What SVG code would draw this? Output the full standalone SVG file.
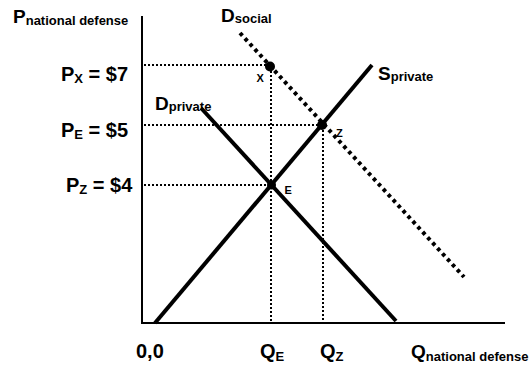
<svg xmlns="http://www.w3.org/2000/svg" width="532" height="366" viewBox="0 0 532 366">
<style>
text{font-family:"Liberation Sans",Arial,sans-serif;font-weight:bold;fill:#000}
.big{font-size:20px}
.sub{font-size:13px}
.lab{font-size:19px}
.lsub{font-size:13px}
.tiny{font-size:11px}
.axis{stroke:#000;stroke-width:2;fill:none}
.curve{stroke:#000;stroke-width:4;fill:none}
.guide{stroke:#000;stroke-width:2;stroke-dasharray:2 2;fill:none}
.social{stroke:#000;stroke-width:4;stroke-dasharray:3.6 3.7;fill:none}
</style>
<rect width="532" height="366" fill="#fff"/>
<g id="connectors">
<path class="guide" d="M144 65H270M144 125H322M144 185H271M271 67V322M323 126V322"/>
<path class="axis" d="M142 16V323H505"/>
<path class="curve" d="M155 323L372 65"/>
<path class="curve" d="M201 108L396 321"/>
<path class="social" d="M240 33L464 277"/>
</g>
<g id="point-x"><circle cx="270" cy="66.5" r="5"/><text class="tiny" x="256.5" y="82">X</text></g>
<g id="point-z"><circle cx="322" cy="125" r="5"/><text class="tiny" x="336" y="137">Z</text></g>
<g id="point-e"><circle cx="271.5" cy="185" r="4.5"/><text class="tiny" x="284.5" y="194">E</text></g>
<g id="label-p-axis"><text class="lab" x="13" y="23">P<tspan class="lsub" dy="2">national defense</tspan></text></g>
<g id="label-q-axis"><text class="lab" x="411" y="358">Q<tspan class="lsub" dy="3">national defense</tspan></text></g>
<g id="label-dsocial"><text class="lab" x="221" y="22">D<tspan class="lsub" dy="1">social</tspan></text></g>
<g id="label-dprivate"><text class="lab" x="155" y="110">D<tspan class="lsub" dy="1">private</tspan></text></g>
<g id="label-sprivate"><text class="lab" x="378" y="80">S<tspan class="lsub" dy="1">private</tspan></text></g>
<g id="label-px"><text class="big" x="61" y="81">P<tspan class="sub" dy="2">X</tspan><tspan dy="-2"> = $7</tspan></text></g>
<g id="label-pe"><text class="big" x="61" y="137">P<tspan class="sub" dy="2">E</tspan><tspan dy="-2"> = $5</tspan></text></g>
<g id="label-pz"><text class="big" x="66" y="192">P<tspan class="sub" dy="2">Z</tspan><tspan dy="-2"> = $4</tspan></text></g>
<g id="label-origin"><text class="big" x="136" y="358">0,0</text></g>
<g id="label-qe"><text class="big" x="260" y="358">Q<tspan class="sub" dy="3">E</tspan></text></g>
<g id="label-qz"><text class="big" x="320" y="358">Q<tspan class="sub" dy="3">Z</tspan></text></g>
</svg>
